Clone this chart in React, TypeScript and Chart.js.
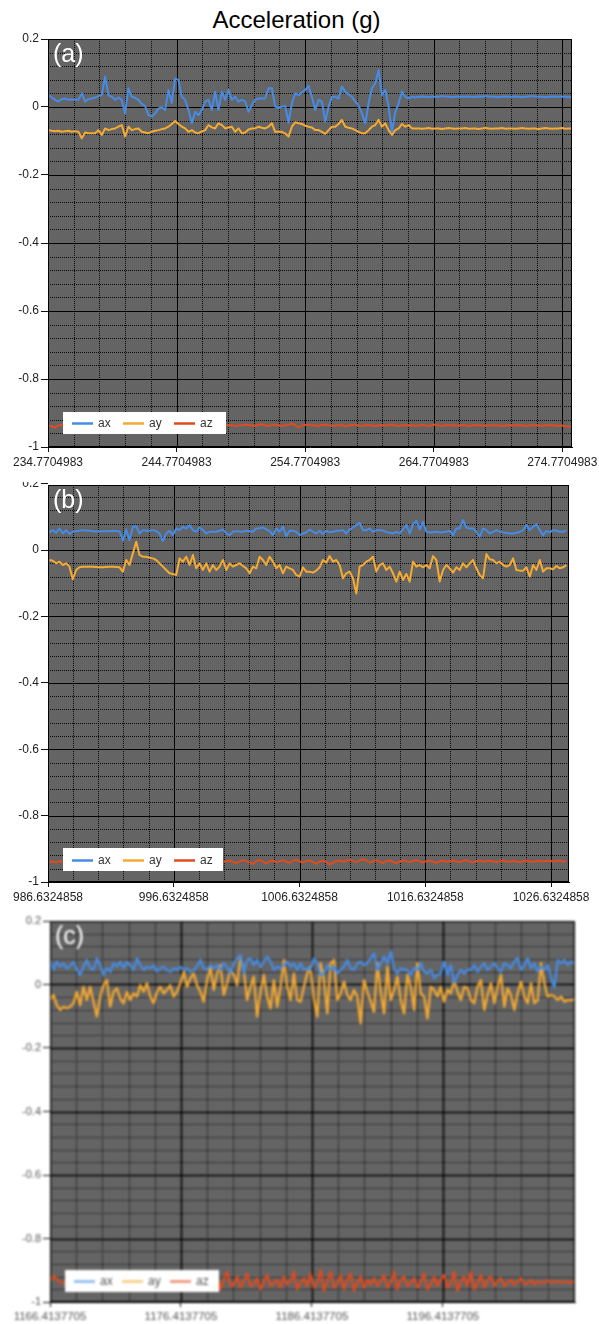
import React, { useEffect, useRef } from "react";
import { Chart, registerables } from "chart.js";

Chart.register(...registerables);

const FONT = "'Liberation Sans', Arial, Helvetica, sans-serif";
Chart.defaults.font.family = FONT;

const TITLE = "Acceleration (g)";
const SERIES_NAMES = ["ax", "ay", "az"];
const SERIES_COLORS = ["#468ce6", "#f5aa32", "#e14b1e"];

const Y_TICK_LABELS = ["0.2", "0", "-0.2", "-0.4", "-0.6", "-0.8", "-1"];
const Y_MIN = -1;
const Y_MINOR_STEP = 0.04;
const X_MINOR_STEP = 2;
const X_MAJOR_STEP = 10;

// ---------- panel (a) ----------
const A_TAG = "(a)";
const A_X_TICK_LABELS = ["234.7704983", "244.7704983", "254.7704983", "264.7704983", "274.7704983"];
const A_X_MAX = 275.52;
const A_Y_MAX = 0.2;
const A_T0 = 234.8;
const A_DT = 0.2594;
const A_AX = [
  0.035, 0.028, 0.021, 0.016, 0.023, 0.025, 0.021, 0.023, 0.021, 0.021,
  0.040, 0.016, 0.023, 0.025, 0.028, 0.032, 0.035, 0.089, 0.035, 0.030,
  0.021, 0.028, 0.021, -0.019, 0.055, 0.030, 0.027, 0.021, 0.009, 0.003,
  -0.024, -0.028, -0.019, -0.004, -0.001, -0.009, 0.050, 0.012, 0.084, 0.079,
  0.030, 0.021, -0.009, -0.048, -0.014, -0.024, -0.009, 0.016, 0.021, -0.009,
  0.045, -0.009, 0.045, 0.021, 0.050, 0.021, 0.030, 0.016, 0.021, 0.016,
  -0.014, 0.006, 0.021, 0.025, 0.025, 0.025, 0.055, 0.055, 0.001, -0.003,
  0.001, 0.003, -0.046, 0.011, 0.040, 0.035,
  0.043, 0.050, 0.062, 0.030, -0.009, 0.021, 0.016, -0.043, 0.001, 0.030,
  0.030, 0.025, 0.060, 0.045, 0.037, 0.030, 0.016, 0.005, -0.019, -0.048,
  0.011, 0.055, 0.070, 0.109, 0.035, 0.050, 0.001, -0.073, -0.014, 0.011,
  0.045, 0.030, 0.025, 0.030, 0.028,
  0.030, 0.031, 0.030, 0.029, 0.031, 0.030, 0.030, 0.032, 0.031, 0.030,
  0.029, 0.030, 0.031, 0.030, 0.030, 0.031, 0.029, 0.030, 0.031, 0.030,
  0.032, 0.031, 0.030, 0.030, 0.029, 0.030, 0.031, 0.030, 0.030, 0.031,
  0.030, 0.029, 0.030, 0.031, 0.032, 0.031, 0.030, 0.030, 0.029, 0.030,
  0.031, 0.030, 0.030, 0.031, 0.030, 0.029, 0.030,
];
const A_AY = [
  -0.068, -0.070, -0.071, -0.070, -0.073, -0.071, -0.070, -0.073, -0.071, -0.073,
  -0.092, -0.075, -0.077, -0.077, -0.077, -0.068, -0.082, -0.063, -0.068, -0.065,
  -0.063, -0.058, -0.053, -0.087, -0.058, -0.068, -0.065, -0.063, -0.073, -0.075,
  -0.077, -0.073, -0.070, -0.068, -0.065, -0.063, -0.058, -0.050, -0.041, -0.050,
  -0.058, -0.063, -0.073, -0.068, -0.075, -0.077, -0.072, -0.068, -0.053, -0.060,
  -0.063, -0.048, -0.053, -0.063, -0.060, -0.058, -0.073, -0.063, -0.077, -0.075,
  -0.066, -0.063, -0.063, -0.058, -0.061, -0.063, -0.058, -0.048, -0.073, -0.073,
  -0.073, -0.078, -0.087, -0.058, -0.045, -0.048,
  -0.050, -0.055, -0.058, -0.060, -0.068, -0.068, -0.073, -0.079, -0.068, -0.058,
  -0.058, -0.050, -0.038, -0.058, -0.061, -0.063, -0.068, -0.073, -0.077, -0.077,
  -0.068, -0.058, -0.053, -0.038, -0.058, -0.048, -0.068, -0.082, -0.068, -0.063,
  -0.050, -0.058, -0.053, -0.063, -0.063,
  -0.063, -0.064, -0.063, -0.062, -0.064, -0.063, -0.063, -0.065, -0.063, -0.062,
  -0.063, -0.064, -0.063, -0.063, -0.062, -0.064, -0.063, -0.063, -0.065, -0.063,
  -0.062, -0.063, -0.064, -0.063, -0.063, -0.062, -0.064, -0.063, -0.063, -0.064,
  -0.063, -0.062, -0.063, -0.064, -0.063, -0.063, -0.065, -0.063, -0.062, -0.063,
  -0.064, -0.063, -0.063, -0.062, -0.064, -0.063, -0.063,
];
const A_AZ = [
  -0.937, -0.939, -0.943, -0.936, -0.935, -0.937, -0.938, -0.936, -0.937, -0.939,
  -0.936, -0.935, -0.938, -0.937, -0.936, -0.939, -0.937, -0.935, -0.938, -0.936,
  -0.934, -0.937, -0.938, -0.936, -0.935, -0.937, -0.939, -0.936, -0.934, -0.937,
  -0.938, -0.935, -0.933, -0.937, -0.939, -0.936, -0.935, -0.937, -0.936, -0.938,
  -0.937, -0.934, -0.936, -0.938, -0.937, -0.932, -0.935, -0.938, -0.936, -0.934,
  -0.937, -0.939, -0.936, -0.934, -0.937, -0.935, -0.938, -0.937, -0.936, -0.934,
  -0.935, -0.937, -0.939, -0.934, -0.933, -0.936, -0.938, -0.935, -0.934, -0.937,
  -0.938, -0.936, -0.935, -0.931, -0.936, -0.942, -0.937, -0.935, -0.934, -0.937,
  -0.936, -0.938, -0.935, -0.934, -0.936, -0.938, -0.937, -0.935, -0.936, -0.939,
  -0.937, -0.935, -0.934, -0.937, -0.938, -0.936, -0.935, -0.937, -0.938, -0.936,
  -0.935, -0.937, -0.936, -0.934, -0.937, -0.938, -0.936, -0.935, -0.937, -0.936,
  -0.938, -0.937, -0.935, -0.936, -0.938, -0.936, -0.934, -0.937, -0.938, -0.936,
  -0.935, -0.937, -0.936, -0.938, -0.935, -0.936, -0.938, -0.937, -0.935, -0.936,
  -0.937, -0.938, -0.936, -0.935, -0.937, -0.936, -0.938, -0.937, -0.935, -0.936,
  -0.937, -0.935, -0.936, -0.938, -0.937, -0.935, -0.936, -0.937, -0.938, -0.936,
  -0.935, -0.937, -0.936, -0.938, -0.937, -0.939, -0.940, -0.941,
];

// ---------- panel (b) ----------
const B_TAG = "(b)";
const B_X_TICK_LABELS = ["986.6324858", "996.6324858", "1006.6324858", "1016.6324858", "1026.6324858"];
const B_X_MAX = 1028.06;
const B_Y_MAX = 0.196;
const B_T0 = 986.75;
const B_DT = 0.2652;
const B_AX = [
  0.053, 0.060, 0.052, 0.065, 0.050, 0.060, 0.048, 0.055, 0.057, 0.058,
  0.060, 0.059, 0.058, 0.057, 0.056, 0.056, 0.057, 0.057, 0.057, 0.058,
  0.057, 0.057, 0.028, 0.062, 0.030, 0.070, 0.072, 0.050, 0.060, 0.058,
  0.058, 0.060, 0.057, 0.050, 0.027, 0.050, 0.058, 0.045, 0.065, 0.060,
  0.070, 0.065, 0.075, 0.060, 0.055, 0.068, 0.060, 0.050, 0.055, 0.055,
  0.055, 0.058, 0.062, 0.050, 0.045, 0.055, 0.057, 0.056, 0.055, 0.058,
  0.057, 0.055, 0.065, 0.066, 0.068, 0.062, 0.058, 0.045, 0.065, 0.055,
  0.070, 0.042, 0.058, 0.058, 0.055,
  0.045, 0.050, 0.053, 0.062, 0.055, 0.050, 0.058, 0.048, 0.058, 0.054,
  0.055, 0.058, 0.058, 0.060, 0.050, 0.062, 0.068, 0.075, 0.082, 0.060,
  0.060, 0.065, 0.055, 0.060, 0.060, 0.059, 0.054, 0.052, 0.050, 0.055,
  0.050, 0.062, 0.075, 0.050, 0.078, 0.088, 0.062, 0.085, 0.055, 0.053,
  0.054, 0.055, 0.053, 0.054, 0.055, 0.058, 0.045, 0.065, 0.065, 0.090,
  0.068, 0.065, 0.065, 0.055, 0.040, 0.065, 0.060, 0.050, 0.055, 0.060,
  0.055, 0.053, 0.052, 0.050, 0.050, 0.052, 0.055, 0.060, 0.075, 0.060,
  0.070, 0.078, 0.060, 0.045, 0.058, 0.053, 0.060, 0.058, 0.055, 0.055,
  0.060,
];
const B_AY = [
  -0.030, -0.032, -0.040, -0.035, -0.045, -0.040, -0.050, -0.088, -0.060, -0.052,
  -0.050, -0.050, -0.050, -0.050, -0.051, -0.052, -0.052, -0.051, -0.050, -0.050,
  -0.051, -0.052, -0.065, -0.030, -0.045, -0.010, 0.025, -0.015, -0.020, -0.020,
  -0.023, -0.025, -0.030, -0.040, -0.050, -0.060, -0.070, -0.072, -0.075, -0.025,
  -0.035, -0.020, -0.045, -0.015, -0.055, -0.040, -0.060, -0.040, -0.065, -0.045,
  -0.060, -0.050, -0.030, -0.060, -0.040, -0.050, -0.045, -0.040, -0.048, -0.055,
  -0.070, -0.050, -0.055, -0.020, -0.030, -0.045, -0.020, -0.035, -0.055, -0.045,
  -0.070, -0.050, -0.055, -0.060, -0.075,
  -0.080, -0.052, -0.065, -0.065, -0.068, -0.062, -0.052, -0.030, -0.038, -0.018,
  -0.035, -0.030, -0.045, -0.085, -0.070, -0.065, -0.085, -0.131, -0.050, -0.045,
  -0.035, -0.030, -0.020, -0.065, -0.045, -0.040, -0.060, -0.050, -0.070, -0.095,
  -0.065, -0.090, -0.072, -0.095, -0.035, -0.050, -0.045, -0.052, -0.045, -0.055,
  -0.018, -0.030, -0.095, -0.060, -0.045, -0.055, -0.068, -0.052, -0.060, -0.040,
  -0.052, -0.040, -0.030, -0.055, -0.075, -0.085, -0.012, -0.028, -0.030, -0.040,
  -0.035, -0.045, -0.050, -0.045, -0.025, -0.060, -0.062, -0.062, -0.052, -0.080,
  -0.045, -0.060, -0.030, -0.065, -0.055, -0.055, -0.058, -0.048, -0.055, -0.052,
  -0.045,
];
const B_AZ = [
  -0.940, -0.938, -0.941, -0.937, -0.939, -0.940, -0.938, -0.936, -0.939, -0.941,
  -0.938, -0.937, -0.940, -0.939, -0.936, -0.938, -0.940, -0.939, -0.937, -0.938,
  -0.940, -0.937, -0.936, -0.939, -0.941, -0.938, -0.936, -0.939, -0.940, -0.937,
  -0.938, -0.936, -0.940, -0.942, -0.937, -0.935, -0.939, -0.941, -0.938, -0.936,
  -0.940, -0.937, -0.934, -0.939, -0.942, -0.937, -0.935, -0.939, -0.940, -0.936,
  -0.934, -0.938, -0.941, -0.937, -0.935, -0.939, -0.943, -0.938, -0.934, -0.937,
  -0.941, -0.946, -0.937, -0.933, -0.939, -0.944, -0.938, -0.935, -0.940, -0.937,
  -0.934, -0.939, -0.942, -0.936, -0.933, -0.938, -0.941, -0.937, -0.935, -0.940,
  -0.945, -0.938, -0.936, -0.940, -0.947, -0.942, -0.937, -0.935, -0.939, -0.936,
  -0.933, -0.937, -0.940, -0.935, -0.931, -0.936, -0.941, -0.938, -0.934, -0.939,
  -0.943, -0.937, -0.935, -0.939, -0.944, -0.938, -0.935, -0.937, -0.940, -0.936,
  -0.934, -0.938, -0.941, -0.937, -0.935, -0.939, -0.942, -0.937, -0.936, -0.939,
  -0.937, -0.935, -0.938, -0.940, -0.936, -0.934, -0.938, -0.941, -0.937, -0.935,
  -0.939, -0.937, -0.936, -0.938, -0.940, -0.937, -0.935, -0.938, -0.939, -0.936,
  -0.938, -0.940, -0.937, -0.935, -0.938, -0.939, -0.937, -0.936, -0.938, -0.937,
  -0.936, -0.938, -0.937, -0.935, -0.939, -0.937,
];

// ---------- panel (c) ----------
const C_TAG = "(c)";
const C_X_TICK_LABELS = ["1166.4137705", "1176.4137705", "1186.4137705", "1196.4137705"];
const C_X_MAX = 1206.5;
const C_Y_MAX = 0.2;
const C_T0 = 1166.42;
const C_DT = 0.255;
const C_AX = [
  0.077, 0.046, 0.072, 0.056, 0.067, 0.051, 0.058, 0.072, 0.046, 0.030,
  0.056, 0.077, 0.051, 0.046, 0.082, 0.061, 0.030, 0.051, 0.040, 0.067,
  0.056, 0.072, 0.051, 0.072, 0.061, 0.046, 0.082, 0.061, 0.046, 0.056,
  0.051, 0.061, 0.040, 0.051, 0.056, 0.046, 0.040, 0.051, 0.046, 0.056,
  0.046, 0.051, 0.040, 0.046, 0.056, 0.077, 0.051, 0.046, 0.061, 0.051,
  0.061, 0.046, 0.067, 0.056, 0.035, 0.067, 0.082, 0.093, 0.035, 0.077,
  0.082, 0.061, 0.077, 0.056, 0.072, 0.088, 0.072, 0.046, 0.056, 0.051,
  0.061, 0.072, 0.056, 0.067, 0.046,
  0.067, 0.046, 0.051, 0.046, 0.082, 0.067, 0.030, 0.035, 0.061, 0.046,
  0.056, 0.035, 0.046, 0.056, 0.077, 0.051, 0.046, 0.067, 0.072, 0.061,
  0.067, 0.082, 0.098, 0.046, 0.067, 0.088, 0.067, 0.103, 0.051, 0.035,
  0.051, 0.046, 0.046, 0.030, 0.051, 0.046, 0.067, 0.040, 0.035, 0.046,
  0.020, 0.030, 0.035, 0.072, 0.030, 0.061, 0.005, 0.030, 0.046, 0.035,
  0.046, 0.046, 0.061, 0.040, 0.056, 0.067, 0.046, 0.056, 0.067, 0.051,
  0.040, 0.067, 0.061, 0.051, 0.072, 0.083, 0.046, 0.061, 0.082, 0.051,
  0.067, 0.040, 0.056, 0.046, 0.061, 0.020, -0.010, 0.077, 0.067, 0.077,
  0.061, 0.072, 0.067,
];
const C_AY = [
  -0.049, -0.033, -0.065, -0.080, -0.070, -0.075, -0.070, -0.059, -0.023, -0.065,
  -0.007, -0.049, -0.007, -0.054, -0.101, -0.038, -0.002, 0.014, -0.070, -0.023,
  -0.012, -0.044, -0.059, -0.023, -0.049, -0.028, -0.038, -0.002, -0.023, 0.004,
  -0.038, -0.059, -0.023, -0.007, -0.028, -0.017, -0.002, -0.038, -0.023, 0.004,
  0.040, -0.007, 0.019, 0.035, -0.002, -0.023, -0.054, 0.014, 0.056, -0.017,
  0.035, 0.061, -0.033, 0.004, 0.046, 0.030, -0.002, 0.088, 0.046, -0.049,
  -0.007, 0.025, -0.101, -0.023, 0.030, -0.038, -0.075, 0.014, -0.070, -0.007,
  0.077, -0.007, -0.049, 0.035, -0.049,
  -0.054, -0.007, 0.035, 0.056, -0.049, -0.101, 0.067, 0.014, -0.091, 0.067,
  0.077, -0.049, -0.028, 0.009, -0.033, -0.049, -0.017, -0.038, -0.122, 0.014,
  -0.023, -0.054, -0.086, 0.067, -0.023, -0.091, 0.056, -0.049, -0.017, 0.025,
  -0.049, -0.091, 0.030, -0.007, -0.080, 0.067, -0.028, -0.038, -0.107, -0.007,
  -0.017, -0.038, -0.007, -0.054, -0.017, -0.028, 0.014, -0.023, -0.049, -0.007,
  -0.012, -0.049, -0.059, -0.007, 0.014, -0.080, -0.033, 0.004, -0.059, -0.007,
  0.030, -0.070, -0.012, -0.033, -0.080, -0.028, 0.009, -0.038, -0.059, 0.004,
  -0.059, -0.049, 0.067, 0.004, -0.038, -0.033, -0.038, -0.049, -0.038, -0.054,
  -0.049, -0.049, -0.047,
];
const C_AZ = [
  -0.935, -0.917, -0.928, -0.938, -0.941, -0.937, -0.935, -0.939, -0.936, -0.934,
  -0.938, -0.935, -0.925, -0.945, -0.930, -0.940, -0.920, -0.950, -0.935, -0.925,
  -0.945, -0.930, -0.915, -0.955, -0.935, -0.920, -0.950, -0.940, -0.925, -0.945,
  -0.930, -0.915, -0.950, -0.935, -0.920, -0.955, -0.940, -0.930, -0.945, -0.925,
  -0.915, -0.950, -0.935, -0.910, -0.955, -0.945, -0.920, -0.905, -0.950, -0.940,
  -0.915, -0.960, -0.930, -0.905, -0.950, -0.945, -0.920, -0.955, -0.935, -0.910,
  -0.950, -0.945, -0.925, -0.960, -0.935, -0.915, -0.950, -0.940, -0.930, -0.955,
  -0.920, -0.945, -0.935, -0.905, -0.960, -0.940, -0.925, -0.950, -0.910, -0.955,
  -0.940, -0.900, -0.965, -0.935, -0.905, -0.955, -0.945, -0.915, -0.960, -0.930,
  -0.910, -0.965, -0.940, -0.920, -0.955, -0.930, -0.945, -0.925, -0.950, -0.935,
  -0.915, -0.955, -0.940, -0.905, -0.960, -0.930, -0.920, -0.950, -0.940, -0.925,
  -0.955, -0.935, -0.910, -0.960, -0.945, -0.920, -0.950, -0.930, -0.915, -0.955,
  -0.940, -0.905, -0.965, -0.935, -0.920, -0.950, -0.905, -0.960, -0.940, -0.915,
  -0.955, -0.930, -0.920, -0.950, -0.935, -0.925, -0.950, -0.940, -0.930, -0.945,
  -0.935, -0.925, -0.945, -0.940, -0.930, -0.945, -0.935, -0.940, -0.938, -0.932,
  -0.940, -0.937, -0.935, -0.938, -0.936, -0.939, -0.937, -0.938,
];

// ---------- drawing helpers ----------
const decorPlugin = {
  id: "decor",
  beforeDatasetsDraw(chart: any, _args: any, o: any) {
    const { ctx, chartArea: a } = chart;
    const xs = chart.scales.x;
    const ys = chart.scales.y;
    const w = a.right - a.left;
    const h = a.bottom - a.top;
    ctx.save();
    ctx.fillStyle = o.bg;
    ctx.fillRect(a.left, a.top, w, h);
    ctx.beginPath();
    ctx.rect(a.left, a.top, w, h);
    ctx.clip();
    const px = (v: number) => Math.round(xs.getPixelForValue(v)) + 0.5;
    const py = (v: number) => Math.round(ys.getPixelForValue(v)) + 0.5;
    // minor grid (dotted)
    ctx.lineWidth = 1;
    ctx.strokeStyle = o.minorColor;
    ctx.setLineDash(o.minorDash);
    ctx.beginPath();
    for (let k = 0; ; k++) {
      const v = xs.min + k * X_MINOR_STEP;
      if (v > xs.max + 1e-9) break;
      if (k % 5 === 0) continue;
      const p = px(v);
      ctx.moveTo(p, a.top);
      ctx.lineTo(p, a.bottom);
    }
    for (let k = 0; ; k++) {
      const v = Y_MIN + k * Y_MINOR_STEP;
      if (v > ys.max + 1e-9) break;
      if (k % 5 === 0) continue;
      const p = py(v);
      ctx.moveTo(a.left, p);
      ctx.lineTo(a.right, p);
    }
    ctx.stroke();
    // major grid (solid)
    ctx.setLineDash([]);
    ctx.strokeStyle = o.majorColor;
    ctx.lineWidth = o.majorWidth;
    ctx.beginPath();
    for (let k = 0; ; k++) {
      const v = xs.min + k * X_MAJOR_STEP;
      if (v > xs.max + 1e-9) break;
      const p = px(v);
      ctx.moveTo(p, a.top);
      ctx.lineTo(p, a.bottom);
    }
    Y_TICK_LABELS.map(Number).forEach((v) => {
      if (v > ys.max + 1e-9) return;
      const p = py(v);
      ctx.moveTo(a.left, p);
      ctx.lineTo(a.right, p);
    });
    ctx.stroke();
    ctx.restore();
  },
  afterDatasetsDraw(chart: any, _args: any, o: any) {
    const { ctx, chartArea: a } = chart;
    ctx.save();
    // frame
    ctx.strokeStyle = "#000";
    ctx.lineWidth = 1;
    ctx.strokeRect(a.left + 0.5, a.top + 0.5, a.right - a.left - 1, a.bottom - a.top - 1);
    // panel tag
    ctx.fillStyle = "#ffffff";
    ctx.font = `25px ${FONT}`;
    ctx.textBaseline = "alphabetic";
    ctx.textAlign = "left";
    ctx.fillText(o.tag, a.left + 5, a.top + 23);
    // legend box
    const lw = o.legendW;
    const lh = o.legendH;
    const lx = a.left + 15;
    const ly = a.bottom - o.legendBottom - lh;
    ctx.fillStyle = "#ffffff";
    ctx.fillRect(lx, ly, lw, lh);
    ctx.font = `12px ${FONT}`;
    ctx.textBaseline = "middle";
    chart.data.datasets.forEach((ds: any, i: number) => {
      const x0 = lx + 9 + i * o.legendStride;
      const cy = Math.round(ly + lh / 2) + 0.5;
      ctx.strokeStyle = ds.borderColor;
      ctx.globalAlpha = o.legendAlpha;
      ctx.lineWidth = 2.5;
      ctx.beginPath();
      ctx.moveTo(x0, cy);
      ctx.lineTo(x0 + 21, cy);
      ctx.stroke();
      ctx.globalAlpha = 1;
      ctx.fillStyle = o.legendText;
      ctx.fillText(ds.label, x0 + 26, cy);
    });
    ctx.restore();
  },
};

type PanelSpec = {
  tag: string;
  xTickLabels: string[];
  xMax: number;
  yMax: number;
  t0: number;
  dt: number;
  series: number[][];
};

type PanelLook = {
  top: number;
  height: number;
  padTop: number;
  padRight: number;
  yAxisW: number;
  xAxisH: number;
  xFont: number;
  yFont: number;
  xTickPad: number;
  textColor: string;
  majorWidth: number;
  lineWidth: number;
  legendW: number;
  legendH: number;
  legendBottom: number;
  legendStride: number;
  legendText: string;
  legendAlpha: number;
  filter?: string;
};

function Panel({ spec, look }: { spec: PanelSpec; look: PanelLook }) {
  const ref = useRef<HTMLCanvasElement | null>(null);
  useEffect(() => {
    if (!ref.current) return;
    const xTicks = spec.xTickLabels.map(Number);
    const yTicks = Y_TICK_LABELS.map(Number);
    const chart = new Chart(ref.current, {
      type: "line",
      data: {
        datasets: spec.series.map((vals, si) => ({
          label: SERIES_NAMES[si],
          data: vals.map((v, i) => ({ x: spec.t0 + i * spec.dt, y: v })),
          borderColor: SERIES_COLORS[si],
          backgroundColor: SERIES_COLORS[si],
          borderWidth: look.lineWidth,
          pointRadius: 0,
          tension: 0,
          fill: false,
          borderJoinStyle: "round",
        })),
      },
      options: {
        animation: false,
        responsive: false,
        maintainAspectRatio: false,
        events: [],
        layout: { padding: { top: look.padTop, right: look.padRight, left: 0, bottom: 0 } },
        scales: {
          x: {
            type: "linear",
            min: xTicks[0],
            max: spec.xMax,
            afterBuildTicks: (s: any) => {
              s.ticks = xTicks.map((v) => ({ value: v }));
            },
            afterFit: (s: any) => {
              s.height = look.xAxisH;
              s.paddingLeft = 0;
              s.paddingRight = 0;
            },
            ticks: {
              autoSkip: false,
              maxRotation: 0,
              minRotation: 0,
              padding: look.xTickPad,
              color: look.textColor,
              font: { family: FONT, size: look.xFont },
              callback: (_v: any, i: number) => spec.xTickLabels[i],
            },
            grid: { drawOnChartArea: false, drawTicks: true, tickLength: 5, tickColor: "#111" },
            border: { display: true, color: "#000" },
          },
          y: {
            type: "linear",
            min: Y_MIN,
            max: spec.yMax,
            afterBuildTicks: (s: any) => {
              s.ticks = yTicks.map((v) => ({ value: v }));
            },
            afterFit: (s: any) => {
              s.width = look.yAxisW;
              s.paddingTop = 0;
              s.paddingBottom = 0;
            },
            ticks: {
              padding: 2,
              color: look.textColor,
              font: { family: FONT, size: look.yFont },
              callback: (_v: any, i: number) => Y_TICK_LABELS[i],
            },
            grid: { drawOnChartArea: false, drawTicks: true, tickLength: 7, tickColor: "#111" },
            border: { display: true, color: "#000" },
          },
        },
        plugins: {
          legend: { display: false },
          tooltip: { enabled: false },
          decor: {
            tag: spec.tag,
            bg: "#646464",
            minorColor: "rgba(0,0,0,0.9)",
            minorDash: [1, 1],
            majorColor: "#000",
            majorWidth: look.majorWidth,
            legendW: look.legendW,
            legendH: look.legendH,
            legendBottom: look.legendBottom,
            legendStride: look.legendStride,
            legendText: look.legendText,
            legendAlpha: look.legendAlpha,
          },
        } as any,
      },
      plugins: [decorPlugin as any],
    } as any);
    return () => chart.destroy();
  }, [spec, look]);
  return (
    <canvas
      ref={ref}
      width={599}
      height={look.height}
      style={{
        position: "absolute",
        left: 0,
        top: look.top,
        width: 599,
        height: look.height,
        filter: look.filter,
      }}
    />
  );
}

const SPEC_A: PanelSpec = { tag: A_TAG, xTickLabels: A_X_TICK_LABELS, xMax: A_X_MAX, yMax: A_Y_MAX, t0: A_T0, dt: A_DT, series: [A_AX, A_AY, A_AZ] };
const SPEC_B: PanelSpec = { tag: B_TAG, xTickLabels: B_X_TICK_LABELS, xMax: B_X_MAX, yMax: B_Y_MAX, t0: B_T0, dt: B_DT, series: [B_AX, B_AY, B_AZ] };
const SPEC_C: PanelSpec = { tag: C_TAG, xTickLabels: C_X_TICK_LABELS, xMax: C_X_MAX, yMax: C_Y_MAX, t0: C_T0, dt: C_DT, series: [C_AX, C_AY, C_AZ] };

const LOOK_A: PanelLook = {
  top: 30, height: 448, padTop: 9, padRight: 27, yAxisW: 48, xAxisH: 31,
  xFont: 12, yFont: 12, xTickPad: 3, textColor: "#222", majorWidth: 1, lineWidth: 2,
  legendW: 163, legendH: 22, legendBottom: 13, legendStride: 51, legendText: "#333", legendAlpha: 1,
};
const LOOK_B: PanelLook = {
  top: 482, height: 431, padTop: 3, padRight: 30, yAxisW: 48, xAxisH: 31,
  xFont: 12, yFont: 12, xTickPad: 3, textColor: "#222", majorWidth: 1, lineWidth: 2,
  legendW: 160, legendH: 23, legendBottom: 11, legendStride: 51, legendText: "#333", legendAlpha: 1,
};
const LOOK_C: PanelLook = {
  top: 915, height: 409, padTop: 6, padRight: 24, yAxisW: 50, xAxisH: 22,
  xFont: 11.5, yFont: 11, xTickPad: 3, textColor: "#555", majorWidth: 1.5, lineWidth: 2.3,
  legendW: 154, legendH: 22, legendBottom: 10, legendStride: 48, legendText: "#555", legendAlpha: 0.65,
  filter: "blur(0.8px)",
};

export default function App() {
  return (
    <div style={{ position: "absolute", left: 0, top: 0, width: 599, height: 1324, background: "#fff", overflow: "hidden" }}>
      <div
        style={{
          position: "absolute",
          left: 0,
          top: 6,
          width: 593,
          textAlign: "center",
          fontFamily: FONT,
          fontSize: 24,
          lineHeight: "28px",
          color: "#000",
        }}
      >
        {TITLE}
      </div>
      <Panel spec={SPEC_A} look={LOOK_A} />
      <Panel spec={SPEC_B} look={LOOK_B} />
      <Panel spec={SPEC_C} look={LOOK_C} />
    </div>
  );
}
